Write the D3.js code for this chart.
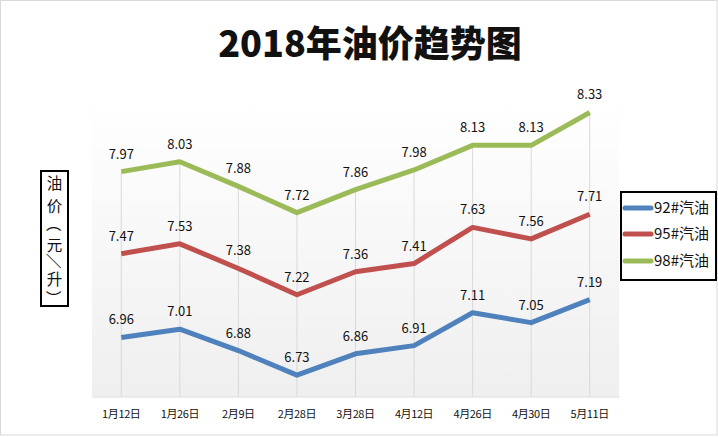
<!DOCTYPE html>
<html><head><meta charset="utf-8">
<script src="https://cdn.jsdelivr.net/npm/d3@7"></script>
<style>
html,body{margin:0;padding:0;background:#fff;}
svg{display:block;font-family:"Noto Sans CJK SC","Noto Sans",sans-serif;}
</style>
</head><body>
<svg id="c" width="718" height="437"></svg>
<script>
const categories = ["1月12日","1月26日","2月9日","2月28日","3月28日","4月12日","4月26日","4月30日","5月11日"];
const seriesNames = ["92#汽油","95#汽油","98#汽油"];
const series92 = [6.96,7.01,6.88,6.73,6.86,6.91,7.11,7.05,7.19];
const series95 = [7.47,7.53,7.38,7.22,7.36,7.41,7.63,7.56,7.71];
const series98 = [7.97,8.03,7.88,7.72,7.86,7.98,8.13,8.13,8.33];
const yTitleChars = ["油","价","（","元","／","升","）"];
const colors = ["#4f81bd","#c0504d","#9bbb59"];
const yDomain = [6.6, 8.4];

const allSeries = [series92, series95, series98];
const svg = d3.select("#c");
const plot = {x0:92, x1:619, y0:101, y1:396.5};

svg.append("rect").attr("x",0.5).attr("y",0.5).attr("width",716.5).attr("height",434.5)
  .attr("fill","#fff").attr("stroke","#d9d9d9");

const defs = svg.append("defs");
const grad = defs.append("linearGradient").attr("id","bg").attr("x1",0).attr("y1",0).attr("x2",0).attr("y2",1);
grad.append("stop").attr("offset","0%").attr("stop-color","#ffffff");
grad.append("stop").attr("offset","100%").attr("stop-color","#efefef");

svg.append("rect").attr("x",plot.x0).attr("y",plot.y0).attr("width",plot.x1-plot.x0).attr("height",plot.y1-plot.y0)
  .attr("fill","url(#bg)");

const x = d3.scaleBand().domain(categories).range([plot.x0, plot.x1]).padding(0);
const cx = c => x(c) + x.bandwidth()/2;
const y = d3.scaleLinear().domain(yDomain).range([plot.y1, plot.y0]);

svg.append("g").selectAll("line").data(categories).join("line")
  .attr("x1", c=>cx(c)).attr("x2", c=>cx(c))
  .attr("y1", (c,i)=>y(d3.max(allSeries, s=>s[i])))
  .attr("y2", plot.y1)
  .attr("stroke","#d9d9d9").attr("stroke-width",1);

const xAxis = svg.append("g").attr("transform",`translate(0,${plot.y1})`)
  .call(d3.axisBottom(x).tickSize(0).tickPadding(14));
xAxis.select(".domain").attr("stroke","#d9d9d9");
xAxis.selectAll("text").attr("font-size","11px").attr("fill","#111")
  .attr("font-family",'"Noto Sans CJK SC",sans-serif').attr("letter-spacing","-0.4px");

const line = d3.line().x((d,i)=>cx(categories[i])).y(d=>y(d));
allSeries.forEach((s,k)=>{
  svg.append("path").datum(s).attr("d",line).attr("fill","none")
    .attr("stroke",colors[k]).attr("stroke-width",5).attr("stroke-linejoin","round");
  svg.append("g").selectAll("text").data(s).join("text")
    .attr("x",(d,i)=>cx(categories[i])).attr("y",d=>y(d)-13)
    .attr("text-anchor","middle").attr("font-size","13px").attr("fill","#111")
    .text(d=>d.toFixed(2));
});

svg.append("text").attr("x",370).attr("y",57).attr("text-anchor","middle")
  .attr("font-size","36px").attr("font-weight","900").attr("fill","#111")
  .text("2018年油价趋势图");

// y axis title box
svg.append("rect").attr("x",41).attr("y",171).attr("width",27).attr("height",135)
  .attr("fill","#fff").attr("stroke","#000").attr("stroke-width",2);
const yCenters = [182, 205, 224, 244, 261, 278, 298];
const rotated = new Set(["（","）","／"]);
const yt = svg.append("g").attr("font-size","15.5px").attr("fill","#111")
  .attr("font-family",'"Noto Sans CJK SC",sans-serif');
yTitleChars.forEach((ch,i)=>{
  yt.append("text")
    .attr("transform", rotated.has(ch) ? `translate(54.5,${yCenters[i]}) rotate(90)` : `translate(54.5,${yCenters[i]})`)
    .attr("text-anchor","middle").attr("dominant-baseline","central")
    .attr("font-weight", ch==="／" ? "bold" : "normal")
    .text(ch);
});

const lg = svg.append("g");
lg.append("rect").attr("x",621).attr("y",192).attr("width",95).attr("height",88)
  .attr("fill","#fff").attr("stroke","#000").attr("stroke-width",2);
const ly = [208, 234, 261];
seriesNames.forEach((n,k)=>{
  lg.append("line").attr("x1",625).attr("x2",651).attr("y1",ly[k]).attr("y2",ly[k])
    .attr("stroke",colors[k]).attr("stroke-width",5).attr("stroke-linecap","round");
  lg.append("text").attr("x",654).attr("y",ly[k]+5).attr("font-size","15px").attr("fill","#111")
    .text(n);
});
</script>
</body></html>
